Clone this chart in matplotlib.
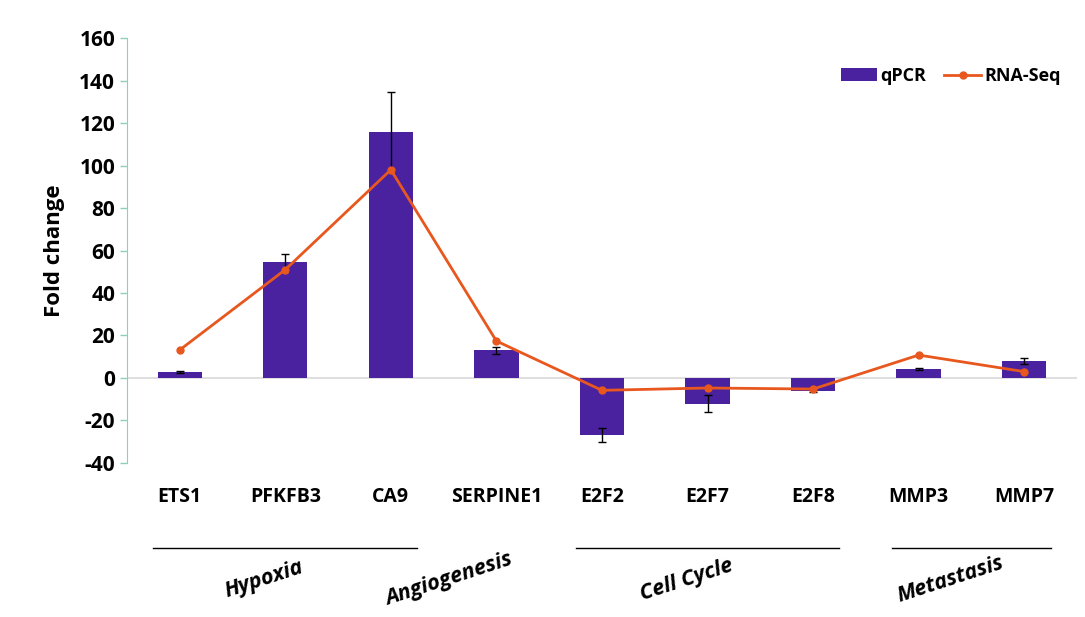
import matplotlib.pyplot as plt
import numpy as np

genes = ['ETS1', 'PFKFB3', 'CA9', 'SERPINE1', 'E2F2', 'E2F7', 'E2F8', 'MMP3', 'MMP7']
qpcr = [2.8, 54.4, 116.0, 13.0, -26.8, -12.1, -6.3, 4.2, 7.8]
qpcr_err = [0.3, 4.0, 18.4, 1.5, 3.2, 4.1, 0.5, 0.5, 1.4]
rnaseq = [13.2, 51.0, 98.0, 17.4, -5.8, -4.7, -5.2, 10.8, 3.0]

groups = ['Hypoxia', 'Angiogenesis', 'Cell Cycle', 'Metastasis']
group_first = [0, 3, 4, 7]
group_last = [2, 3, 6, 8]

bar_color = '#4a22a0'
line_color = '#e8571e'
axis_color = '#8fcfc0'

plt.rcParams['font.family'] = ['Open Sans', 'DejaVu Sans']
plt.rcParams['axes.unicode_minus'] = False

fig = plt.figure(figsize=(10.85, 6.17), dpi=100)
ax = fig.add_axes([0.117, 0.2496, 0.8756, 0.6888])

x = np.arange(len(genes))

# zero line
ax.axhline(0, color='#d9d9d9', lw=1.2, zorder=0)

bars = ax.bar(x, qpcr, width=0.42, color=bar_color, label='qPCR',
              yerr=qpcr_err, error_kw=dict(ecolor='black', capsize=3, elinewidth=1, capthick=1))
line, = ax.plot(x, rnaseq, color=line_color, marker='o', markersize=5, lw=2, label='RNA-Seq')

ax.set_xlim(-0.5, len(genes) - 0.5)
ax.set_ylim(-40, 160)
ax.set_yticks(np.arange(-40, 161, 20))
ax.tick_params(axis='y', colors=axis_color, length=5, width=1, labelsize=15)
for lbl in ax.get_yticklabels():
    lbl.set_color('black')
    lbl.set_fontweight('bold')

ax.set_xticks(x)
ax.set_xticklabels(genes, fontsize=14, fontweight='bold')
ax.tick_params(axis='x', length=0, pad=17)

for side in ['top', 'right', 'bottom']:
    ax.spines[side].set_visible(False)
ax.spines['left'].set_color(axis_color)

ax.set_ylabel('Fold change', fontsize=16, fontweight='bold', labelpad=10)

# group lines and labels under the gene names
trans = ax.get_xaxis_transform()
for name, first, last in zip(groups, group_first, group_last):
    if last > first:
        ax.plot([first - 0.25, last + 0.25], [-0.2, -0.2], color='black', lw=1,
                transform=trans, clip_on=False)
        cx = (first + last) / 2 - 0.2
    else:
        cx = first - 0.45
    ax.text(cx, -0.275, name, transform=trans, fontsize=15.5, fontweight='bold',
            fontstyle='italic', rotation=18, ha='center', va='center')

ax.legend([bars, line], ['qPCR', 'RNA-Seq'], loc='upper right', bbox_to_anchor=(1.0, 0.97),
          ncol=2, frameon=False, prop=dict(weight='bold', size=13), handlelength=2.0,
          handletextpad=0.2, columnspacing=1.0)

fig.savefig('out.png', dpi=100)
